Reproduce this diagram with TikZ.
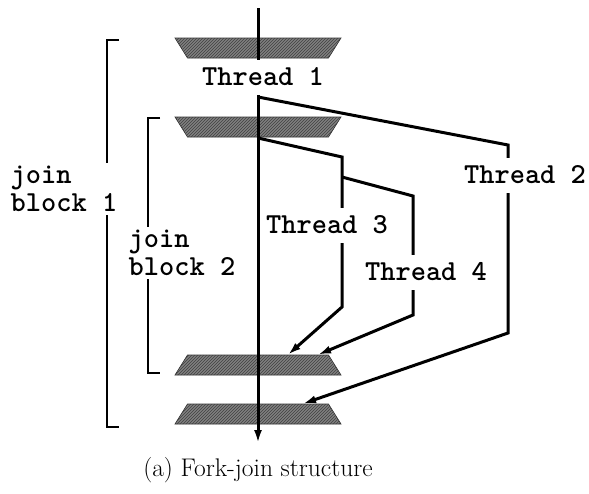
\documentclass[tikz,border=0pt]{standalone}
\usepackage{fontspec}
\usepackage{tikz}
\usetikzlibrary{arrows.meta,positioning,shapes.geometric,calc,patterns}
\definecolor{blockgray}{RGB}{128,128,128}
\tikzset{
  % hatched bar for fork and join
  bar/.style={
    trapezium,
    trapezium left angle=58,
    trapezium right angle=58,
    text width=141pt,
    text height=20pt,
    text depth=0pt,
    inner sep=0pt,
    draw=black!80,
    line width=0.6pt,
    fill=blockgray,
    postaction={pattern=north east lines, pattern color=black!75}
  },
  forkbar/.style={bar, shape border rotate=180},
  joinbar/.style={bar},
  % thread lines
  thr/.style={line width=3pt},
  arr/.style={thr, -{Latex[length=13pt,width=8pt]}},
  % labels that cut the lines
  tlab/.style={
    fill=white,
    font=\ttfamily\bfseries\fontsize{29}{25}\selectfont,
    text height=17pt, text depth=0pt,
    inner xsep=3pt, inner ysep=9pt
  },
  blab/.style={
    fill=white,
    align=left,
    font=\ttfamily\bfseries\fontsize{29}{28}\selectfont,
    inner xsep=2pt, inner ysep=3pt
  },
  caplab/.style={font=\fontsize{25.5}{28}\selectfont},
  % brackets
  brk/.style={line width=2.2pt},
}
\begin{document}
\begin{tikzpicture}[x=1pt,y=-1pt]
  \useasboundingbox (0,0) rectangle (589,493);

  % Bars
  \node[forkbar] (fork1) at (258,48) {};
  \node[forkbar] (fork2) at (258,127) {};
  \node[joinbar] (join1) at (258,365) {};
  \node[joinbar] (join2) at (258,414) {};

  % Main thread
  \coordinate (start) at (258,8);
  \coordinate (finish) at (258,443);
  \draw[arr] (start) -- (finish);

  % Thread 2
  \coordinate (t2a) at (258,97);
  \coordinate (t2b) at (508,145);
  \coordinate (t2c) at (508,333);
  \draw[arr] (t2a) -- (t2b) -- (t2c) -- ($(join2.north)+(45,0)$);

  % Thread 3
  \coordinate (t3a) at (258,138);
  \coordinate (t3b) at (342,157);
  \coordinate (t3c) at (342,307);
  \draw[arr] (t3a) -- (t3b) -- (t3c) -- ($(join1.north)+(30,0)$);

  % Thread 4
  \coordinate (t4a) at (342,177);
  \coordinate (t4b) at (413,196);
  \coordinate (t4c) at (413,315);
  \draw[arr] (t4a) -- (t4b) -- (t4c) -- ($(join1.north)+(60,0)$);

  % Brackets
  \draw[brk] (119,40) -- (107,40) -- (107,427) -- (119,427);
  \draw[brk] (160,118) -- (148,118) -- (148,373) -- (160,373);

  % Labels
  \node[tlab] (thr1) at (263,77) {Thread 1};
  \node[tlab] (thr2) at (525,175) {Thread 2};
  \node[tlab] (thr3) at (327,225) {Thread 3};
  \node[tlab] (thr4) at (426,272) {Thread 4};
  \node[blab] (jb1) at (64,189) {join\\block 1};
  \node[blab] (jb2) at (182,253) {join\\block 2};

  % Caption
  \node[caplab] (cap) at (258,470) {(a) Fork-join structure};
\end{tikzpicture}
\end{document}
